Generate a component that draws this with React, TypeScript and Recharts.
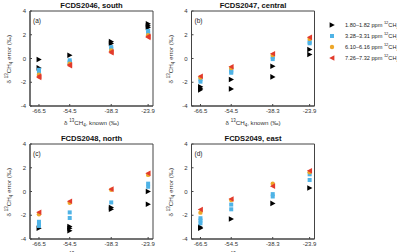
import React from "react";
import { ReferenceArea, Scatter, ScatterChart, XAxis, YAxis } from "recharts";

// known δ13CH4 values of the reference gases (x positions)
const knownValues = [-66.5, -54.5, -38.3, -23.9];
const yTicks = [-4, -2, 0, 2, 4];

const seriesNames = ["1.80–1.82 ppm", "3.28–3.31 ppm", "6.10–6.16 ppm", "7.26–7.32 ppm"];
const seriesColors = ["#000000", "#4fb3e6", "#eda72a", "#e23b2c"];

// errors per known value, one array per CH4 concentration range
const southLow = [[-0.08, -0.79], [0.28], [1.42, 1.26], [2.92, 2.75, 2.62]];
const southMid = [[-0.95, -1.08, -1.2], [-0.15, -0.3, -0.38], [0.96, 0.82], [2.32, 2.14]];
const southUpper = [[-1.36], [-0.44], [0.68], [1.96]];
const southHigh = [[-1.5, -1.6], [-0.52, -0.6], [0.56, 0.48], [1.86, 1.78]];

const centralLow = [[-2.38, -2.5, -2.64], [-1.77, -2.56], [-0.65, -1.55], [0.76, 0.34]];
const centralMid = [[-1.75, -1.95], [-0.95, -1.1, -1.2], [0.12, -0.05], [1.4, 1.28]];
const centralUpper = [[-1.6], [-0.8], [0.3], [1.65]];
const centralHigh = [[-1.5], [-0.7], [0.4], [1.78]];

const northLow = [[-3.1], [-2.95, -3.1, -3.3], [-1.35, -1.5], [0.0, -1.07]];
const northMid = [[-2.55, -2.72, -2.9], [-1.76, -2.23], [-0.92], [0.66, 0.4]];
const northUpper = [[-1.92], [-0.95], [0.15], [1.4]];
const northHigh = [[-1.75], [-0.82], [0.2], [1.53]];

const eastLow = [[-3.0, -3.1], [-2.32], [-1.0], [0.3]];
const eastMid = [[-2.25, -2.45, -2.68], [-1.1, -1.5], [-0.22, -0.42], [1.45, 0.97]];
const eastUpper = [[-1.78], [-0.72], [0.65], [1.62]];
const eastHigh = [[-1.52], [-0.63], [0.45], [1.75]];

const toPoints = (values: number[][]) =>
  values.flatMap((list, i) => list.map((y) => ({ x: knownValues[i], y })));

const RightTriangle = (p: any) => (
  <path d={`M${p.cx - 2.4},${p.cy - 2.8}L${p.cx + 2.8},${p.cy}L${p.cx - 2.4},${p.cy + 2.8}Z`} fill={seriesColors[0]} />
);
const Square = (p: any) => <rect x={p.cx - 2} y={p.cy - 2} width={4} height={4} fill={seriesColors[1]} />;
const Dot = (p: any) => <circle cx={p.cx} cy={p.cy} r={2.2} fill={seriesColors[2]} />;
const LeftTriangle = (p: any) => (
  <path d={`M${p.cx + 2.4},${p.cy - 2.8}L${p.cx - 2.8},${p.cy}L${p.cx + 2.4},${p.cy + 2.8}Z`} fill={seriesColors[3]} />
);
const shapes = [RightTriangle, Square, Dot, LeftTriangle];

const font = "'Liberation Sans', Arial, sans-serif";
const tickStyle = { fontSize: 6, fill: "#333", fontFamily: font };

function LegendBox() {
  return (
    <div
      style={{
        position: "absolute", left: 327, top: 20, fontFamily: font, fontSize: 5.6, color: "#222", whiteSpace: "nowrap",
      }}
    >
      {seriesNames.map((name, i) => {
        const Shape = shapes[i];
        return (
          <div key={name} style={{ display: "flex", alignItems: "center", height: 10.9 }}>
            <svg width={12} height={8} style={{ marginRight: 6 }}>
              <Shape cx={5} cy={4} />
            </svg>
            <span>
              {name} <sup style={{ fontSize: 4, verticalAlign: 3 }}>12</sup>CH<sub style={{ fontSize: 4 }}>4</sub>
            </span>
          </div>
        );
      })}
    </div>
  );
}

interface PanelProps {
  left: number;
  top: number;
  title: string;
  tag: string;
  series: number[][][];
  axisWidth: number;
}

function Panel({ left, top, title, tag, series, axisWidth }: PanelProps) {
  const plotLeft = left + axisWidth;
  const plotCenter = plotLeft + 61.5;
  const width = axisWidth + 130;
  return (
    <>
      <div
        style={{
          position: "absolute", left: plotCenter - 60, top: top + 2, width: 120, textAlign: "center", lineHeight: "8px",
          fontSize: 7.6, fontWeight: "bold", fontFamily: font, color: "#111",
        }}
      >
        {title}
      </div>
      <div style={{ position: "absolute", left: plotLeft + 3, top: top + 11 + 6, fontSize: 6.5, fontFamily: font, color: "#222" }}>
        {tag}
      </div>
      <div
        style={{
          position: "absolute", left: plotLeft - 81, top: top + 58.5 - 5, width: 120, textAlign: "center",
          transform: "rotate(-90deg)", fontSize: 6.2, fontFamily: font, color: "#333", whiteSpace: "nowrap",
        }}
      >
        δ <sup style={{ fontSize: 4.5 }}>13</sup>CH<sub style={{ fontSize: 4.5 }}>4</sub> error (‰)
      </div>
      <div
        style={{
          position: "absolute", left: plotCenter - 60, top: top + 118, width: 120, textAlign: "center",
          fontSize: 6.2, fontFamily: font, color: "#333", whiteSpace: "nowrap",
        }}
      >
        δ <sup style={{ fontSize: 4.5 }}>13</sup>CH<sub style={{ fontSize: 4.5 }}>4</sub>, known (‰)
      </div>
      <div style={{ position: "absolute", left, top }}>
        <ScatterChart width={width} height={130} margin={{ top: 11, right: 7, bottom: 0, left: 0 }}>
          <XAxis
            type="number" dataKey="x" domain={[-70, -22]} ticks={knownValues} height={24}
            tickSize={-2} tickMargin={5} tick={tickStyle} stroke="#444" allowDataOverflow
          />
          <YAxis
            type="number" dataKey="y" domain={[-4, 4]} ticks={yTicks} width={axisWidth}
            tickSize={-2} tickMargin={6} tick={tickStyle} stroke="#444" allowDataOverflow
          />
          <ReferenceArea x1={-70} x2={-22} y1={-4} y2={4} fill="none" stroke="#444" strokeWidth={1} ifOverflow="visible" />
          {series.map((values, i) => (
            <Scatter
              key={seriesNames[i]} name={seriesNames[i]} data={toPoints(values)}
              fill={seriesColors[i]} shape={shapes[i]} isAnimationActive={false}
            />
          ))}
        </ScatterChart>
      </div>
    </>
  );
}

export default function App() {
  return (
    <div
      style={{
        position: "fixed", left: 0, top: 0, width: 397, height: 252, overflow: "hidden", background: "#fff",
      }}
    >
      <Panel left={0} top={0} title="FCDS2046, south" tag="(a)" axisWidth={30}
        series={[southLow, southMid, southUpper, southHigh]} />
      <Panel left={160} top={0} title="FCDS2047, central" tag="(b)" axisWidth={31.5}
        series={[centralLow, centralMid, centralUpper, centralHigh]} />
      <Panel left={0} top={133} title="FCDS2048, north" tag="(c)" axisWidth={30}
        series={[northLow, northMid, northUpper, northHigh]} />
      <Panel left={160} top={133} title="FCDS2049, east" tag="(d)" axisWidth={31.5}
        series={[eastLow, eastMid, eastUpper, eastHigh]} />
      <LegendBox />
    </div>
  );
}
